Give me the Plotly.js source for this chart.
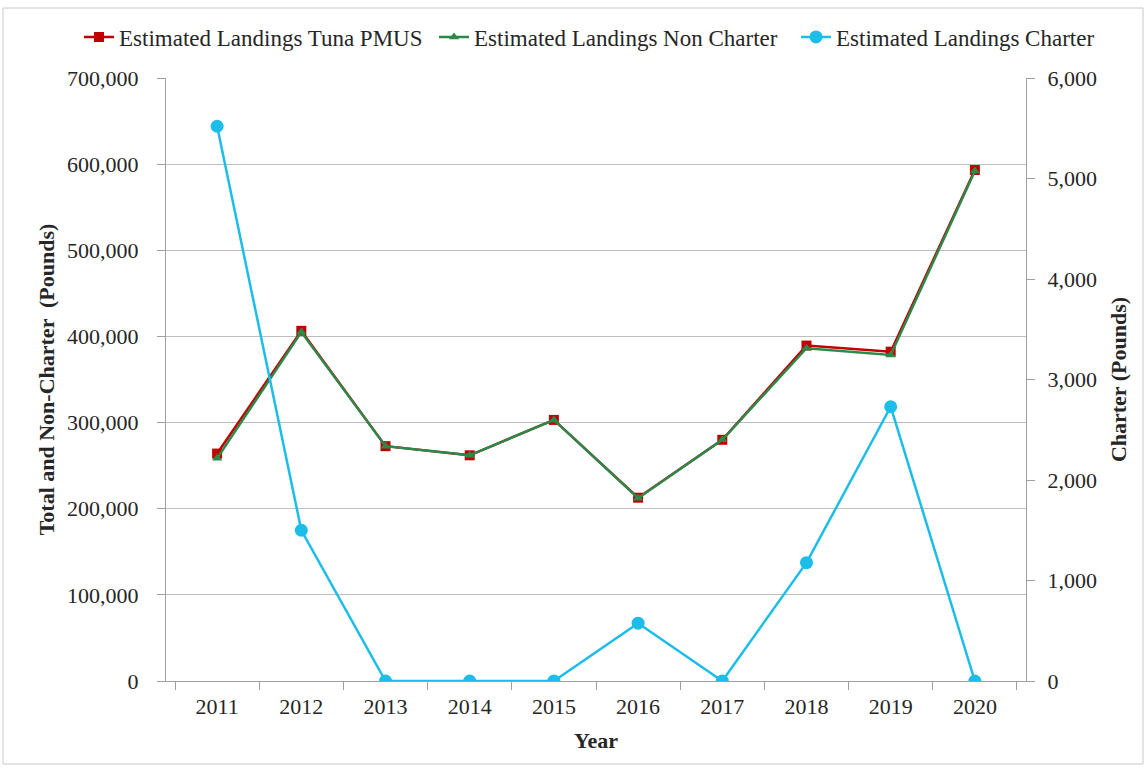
<!DOCTYPE html>
<html>
<head>
<meta charset="utf-8">
<script src="https://cdn.plot.ly/plotly-3.0.1.min.js"></script>
<style>
html,body{margin:0;padding:0;background:#fff;}
#chart{width:1148px;height:768px;}
</style>
</head>
<body>
<div id="chart"></div>
<script>
const years = ['2011','2012','2013','2014','2015','2016','2017','2018','2019','2020'];
const tunaPMUS = [264000, 406500, 272600, 262000, 303100, 212800, 280000, 389400, 382300, 593200];
const nonCharter = [258500, 405000, 272600, 262000, 303100, 212200, 280000, 386300, 378500, 592000];
const charter = [5520, 1500, 0, 0, 0, 575, 0, 1177, 2729, 0];

const leftTicks = [0,100000,200000,300000,400000,500000,600000,700000];
const leftTickText = ['0','100,000','200,000','300,000','400,000','500,000','600,000','700,000'];
const rightTicks = [0,1000,2000,3000,4000,5000,6000];
const rightTickText = ['0','1,000','2,000','3,000','4,000','5,000','6,000'];

const font = 'Liberation Serif, Times New Roman, serif';
const txt = '#262626';

const traces = [
  {x: years, y: tunaPMUS, name: 'Estimated Landings Tuna PMUS', type: 'scatter', mode: 'lines+markers', legend: 'legend',
   line: {color: '#c00000', width: 2.5}, marker: {symbol: 'square', size: 10, color: '#c00000'}},
  {x: years, y: nonCharter, name: 'Estimated Landings Non Charter', type: 'scatter', mode: 'lines+markers', legend: 'legend2',
   line: {color: '#2b8a4a', width: 2.5}, marker: {symbol: 'triangle-up', size: 9, color: '#2b8a4a'}},
  {x: years, y: charter, name: 'Estimated Landings Charter', type: 'scatter', mode: 'lines+markers', yaxis: 'y2', legend: 'legend3',
   line: {color: '#1cbde8', width: 2.5}, marker: {symbol: 'circle', size: 13, color: '#1cbde8'}}
];

function leg(px) {
  return {orientation: 'h', x: px / 1148, xref: 'container', xanchor: 'left',
          y: 1 - 37 / 768, yref: 'container', yanchor: 'middle', bgcolor: 'rgba(0,0,0,0)',
          font: {family: font, size: 23, color: txt}, itemwidth: 30};
}

const layout = {
  width: 1148, height: 768,
  margin: {l: 166, r: 122, t: 78, b: 87},
  paper_bgcolor: '#fff', plot_bgcolor: '#fff',
  font: {family: font, size: 22, color: txt},
  showlegend: true,
  legend: leg(79),
  legend2: leg(434),
  legend3: leg(796),
  xaxis: {
    type: 'category', tickson: 'boundaries', ticks: 'outside', ticklen: 8, tickcolor: '#a0a0a0',
    showline: true, linecolor: '#a0a0a0', linewidth: 1, showgrid: false, ticklabelstandoff: 6,
    tickfont: {family: font, size: 22, color: txt}, automargin: false,
    title: {text: '<b>Year</b>', font: {family: font, size: 22, color: txt}, standoff: 14}
  },
  yaxis: {
    range: [0, 700000], tickvals: leftTicks, ticktext: leftTickText,
    ticks: 'outside', ticklen: 8, tickcolor: '#a0a0a0', ticklabelstandoff: 14,
    showline: true, linecolor: '#a0a0a0', linewidth: 1, automargin: false,
    showgrid: true, gridcolor: '#bdbdbd', gridwidth: 1, zeroline: false,
    tickfont: {family: font, size: 22, color: txt},
    title: {text: '<b>Total and Non-Charter  (Pounds)</b>', font: {family: font, size: 22, color: txt}, standoff: 6}
  },
  yaxis2: {
    overlaying: 'y', side: 'right', range: [0, 6000], tickvals: rightTicks, ticktext: rightTickText,
    ticks: 'outside', ticklen: 8, tickcolor: '#a0a0a0', ticklabelstandoff: 8,
    showline: true, linecolor: '#a0a0a0', linewidth: 1, showgrid: false, zeroline: false, automargin: false,
    tickfont: {family: font, size: 22, color: txt},
    title: {text: '<b>Charter (Pounds)</b>', font: {family: font, size: 22, color: txt}, standoff: 14}
  },
  shapes: [{
    type: 'rect', xref: 'paper', yref: 'paper',
    x0: (3 - 166) / 860, x1: (1143 - 166) / 860,
    y0: (681 - 764) / 603, y1: (681 - 8) / 603,
    line: {color: '#c8c8c8', width: 1}, fillcolor: 'rgba(0,0,0,0)', layer: 'below'
  }]
};

Plotly.newPlot('chart', traces, layout, {displayModeBar: false, staticPlot: true});
</script>
</body>
</html>
